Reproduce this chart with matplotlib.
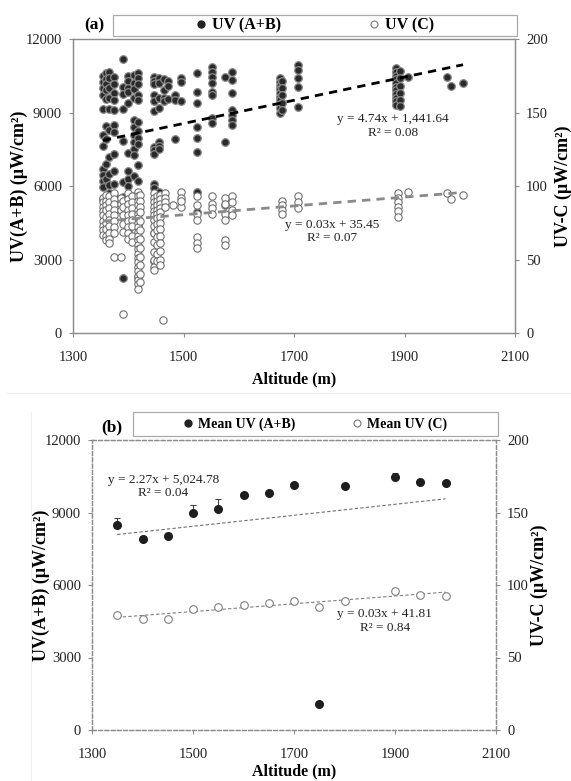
import numpy as np
import matplotlib.pyplot as plt
from matplotlib.lines import Line2D
from matplotlib.patches import Rectangle

plt.rcParams['font.family'] = ['Liberation Serif', 'DejaVu Serif']

# ---- panel (a): raw readings, grouped by altitude column ----
ab_alt = [1354, 1360, 1366, 1374, 1390, 1400, 1410, 1418, 1446, 1455, 1464, 1472,
          1484, 1495, 1524, 1552, 1575, 1588, 1675, 1679, 1707, 1885, 1891, 1906,
          1977, 1984, 2006]
ab_vals = [
    [10500, 10250, 10000, 9700, 9150, 8100, 7650, 6700, 6450, 6200, 5950, 5450],
    [10600, 10350, 10150, 9900, 9550, 8450, 7900, 6900, 6300, 5300],
    [10650, 10400, 10000, 9600, 9150, 8300, 7200, 6500, 6050, 5700],
    [10450, 10150, 9800, 9500, 9100, 8500, 8200, 7300, 6600, 6100, 5600, 5000],
    [11200, 10050, 9750, 9150, 7850, 6150, 5550, 2250],
    [10500, 10300, 10000, 9850, 9400, 7350, 6600, 6300, 6000, 4200],
    [10550, 10200, 9950, 9600, 8700, 8400, 8100, 7800, 7500, 7250, 6400, 5600, 4500],
    [10600, 10400, 10150, 9700, 9500, 8600, 8250, 7950, 7700, 6850, 6200, 5400, 4400, 2300],
    [10450, 10300, 10150, 9700, 9450, 9050, 7600, 7450, 7300, 6100, 5900, 4100, 2950],
    [10400, 10200, 9600, 9200, 7800, 7650, 7500, 5750, 5200, 3700],
    [10350, 9900, 9600, 9450],
    [10300, 10100, 9550],
    [9700, 9500, 7900],
    [10400, 10250, 9450],
    [10600, 9850, 9375, 8420, 7950, 7400, 5760, 4940],
    [10870, 10665, 10460, 10190, 9850, 9714, 8763, 8558],
    [10460, 7810, 5220],
    [10665, 10330, 9784, 9102, 8898, 8694, 8490],
    [10400, 10250, 10100, 9950, 9800, 9650, 9500, 9350, 9200, 9000],
    [10300, 10000, 9700, 9400, 9100],
    [10940, 10740, 10400, 10060, 9240],
    [10800, 10650, 10500, 10350, 10200, 10050, 9900, 9750, 9600, 9450, 9300],
    [10700, 10400, 10100, 9800, 9500, 9250],
    [10460], [10460], [10080], [10190],
]

c_alt = [1354, 1360, 1366, 1374, 1386, 1391, 1400, 1406, 1418, 1422, 1446, 1452,
         1458, 1463, 1466, 1481, 1495, 1524, 1552, 1575, 1588, 1678, 1707, 1888,
         1906, 1977, 1984, 2006]
c_vals = [
    [92, 89, 86, 83, 80, 76, 73, 70, 67],
    [94, 90, 87, 84, 79, 75, 71, 66, 63],
    [93, 89, 85, 81, 77, 73, 68, 64, 61],
    [95, 91, 88, 84, 80, 76, 72, 68, 52],
    [92, 88, 84, 52],
    [90, 86, 80, 74, 69, 13],
    [95, 91, 88, 84, 80, 76, 72, 68, 64],
    [93, 89, 85, 81, 77, 73, 66, 62],
    [96, 93, 90, 87, 84, 81, 78, 75, 72, 69, 66, 63, 60, 57, 54, 51, 48, 45, 42, 39, 36, 33, 30],
    [94, 90, 86, 82, 76, 70, 64, 58, 52, 46, 40, 35],
    [95, 92, 89, 86, 83, 80, 77, 73, 68, 62, 55, 50, 45, 43],
    [93, 90, 87, 84, 81, 78, 74, 70, 65, 60, 54, 49],
    [94, 91, 88, 85, 82, 79, 75, 71, 66, 61, 56, 50, 46],
    [9],
    [95, 92, 89, 86],
    [87],
    [96, 92, 86, 90],
    [93, 87, 81, 77, 65, 61, 58],
    [93, 88, 85, 81],
    [92, 88, 81, 77, 63, 60],
    [93, 89, 84, 80],
    [90, 87, 84, 81],
    [93, 89, 85],
    [95, 92, 89, 86, 83, 79],
    [96], [95], [91], [94],
]

# trendline coefficients as printed on the chart
fit_ab_a = (4.74, 1441.64)
fit_c_a = (0.03, 35.45)

# ---- panel (b): means per altitude ----
alt_b = [1350, 1400, 1450, 1500, 1550, 1600, 1650, 1700, 1750, 1800, 1900, 1950, 2000]
mean_ab = [8480, 7920, 8040, 8970, 9130, 9710, 9820, 10120, 1080, 10100, 10480, 10280, 10230]
err_ab = [280, 120, 100, 330, 420, 80, 60, 60, 60, 60, 150, 80, 80]
mean_c = [79.3, 76.3, 76.3, 83.2, 84.6, 86.2, 87.8, 89.0, 85.0, 89.0, 95.9, 93.1, 92.6]


def flatten(alts, vals):
    xs, ys = [], []
    for a, v in zip(alts, vals):
        xs += [a] * len(v)
        ys += v
    return np.array(xs), np.array(ys)


W, H = 571, 781
fig = plt.figure(figsize=(W / 100, H / 100), dpi=100)

spine_c = '#8c8c8c'
tick_fs = 10.5


def style(ax, dashed=False):
    for s in ax.spines.values():
        s.set_color(spine_c)
        s.set_linewidth(0.9)
        if dashed:
            s.set_linestyle((0, (3, 2)))
    ax.tick_params(direction='out', length=3, color=spine_c, labelcolor='#222222',
                   labelsize=tick_fs, pad=5)
    ax.tick_params(axis='x', pad=10)


def box_legend(x0, y0, x1, y1, handles, labels, spacing, size):
    fig.add_artist(Rectangle((x0 / W, 1 - y1 / H), (x1 - x0) / W, (y1 - y0) / H,
                             transform=fig.transFigure, fill=False, edgecolor='#aaaaaa', lw=0.9))
    fig.legend(handles, labels, loc='center', bbox_to_anchor=((x0 + x1) / 2 / W, 1 - (y0 + y1) / 2 / H),
               ncol=2, frameon=False, handlelength=0.6, handletextpad=0.4,
               columnspacing=spacing, prop={'weight': 'bold', 'size': size}, borderpad=0)


# ===================== panel (a) =====================
ax = fig.add_axes([73 / W, 1 - 333 / H, 442 / W, 294 / H])
ax2 = ax.twinx()
style(ax)
style(ax2)
ax.spines['top'].set_linestyle((0, (1, 1)))
ax.spines['top'].set_color('#b0b0b0')

xa, ya = flatten(ab_alt, ab_vals)
ax.scatter(xa, ya, s=30, c='#2a2a2a', edgecolors='#8a8a8a', linewidths=0.9, zorder=3)
xr = np.array([min(ab_alt), max(ab_alt)])
ax.plot(xr, fit_ab_a[0] * xr + fit_ab_a[1], color='black', lw=2, ls=(0, (3, 2.2)), zorder=4)

xc, yc = flatten(c_alt, c_vals)
ax2.scatter(xc, yc, s=28, c='white', edgecolors='#707070', linewidths=0.8, zorder=3)
xr = np.array([min(c_alt), max(c_alt)])
ax2.plot(xr, fit_c_a[0] * xr + fit_c_a[1], color='#8a8a8a', lw=2, ls=(0, (3, 2.2)), zorder=4)

ax.set_xlim(1300, 2100)
ax.set_ylim(0, 12000)
ax2.set_ylim(0, 200)
ax.set_xticks(np.arange(1300, 2101, 200))
ax.set_yticks(np.arange(0, 12001, 3000))
ax2.set_yticks(np.arange(0, 201, 50))
ax.set_xlabel('Altitude (m)', fontsize=11.5, fontweight='bold', labelpad=5)
ax.set_ylabel('UV(A+B) (μW/cm²)', fontsize=13, fontweight='bold', labelpad=-1.5)
ax2.set_ylabel('UV-C (μW/cm²)', fontsize=13, fontweight='bold', labelpad=4.5)

ax2.text(1879, 141, 'y = 4.74x + 1,441.64\nR² = 0.08', ha='center', va='center',
         fontsize=9.5, color='#222222', linespacing=1.2, zorder=6)
ax2.text(1769, 69, 'y = 0.03x + 35.45\nR² = 0.07', ha='center', va='center',
         fontsize=9.5, color='#222222', linespacing=1.2, zorder=6)
fig.text(84 / W, 1 - 25 / H, '(a)', fontsize=12.5, fontweight='bold', ha='left', va='center')

h1 = Line2D([], [], ls='none', marker='o', ms=5, mfc='#222222', mec='#222222')
h2 = Line2D([], [], ls='none', marker='o', ms=5, mfc='white', mec='#777777', mew=0.8)
box_legend(113, 15, 517, 36, [h1, h2], ['UV (A+B)', 'UV (C)'], 5.5, 11.5)

fig.add_artist(Line2D([7 / W, 1], [1 - 393 / H, 1 - 393 / H], transform=fig.transFigure,
                      color='#ececec', lw=0.8))

# ===================== panel (b) =====================
bx = fig.add_axes([92 / W, 1 - 730 / H, 404 / W, 290 / H])
bx2 = bx.twinx()
style(bx, dashed=True)
style(bx2, dashed=True)

alt_b = np.array(alt_b)
bx.errorbar(alt_b, mean_ab, yerr=[np.zeros(len(err_ab)), err_ab], fmt='o', ms=5.5,
            mfc='#1e1e1e', mec='#1e1e1e', ecolor='#444444', elinewidth=0.8,
            capsize=2, capthick=0.8, zorder=3)
k = np.polyfit(alt_b, mean_ab, 1)
xr = np.array([alt_b.min(), alt_b.max()])
bx.plot(xr, np.polyval(k, xr), color='#707070', lw=0.8, ls=(0, (3, 2)), zorder=2)

bx2.plot(alt_b, mean_c, 'o', ms=5.5, mfc='white', mec='#808080', mew=0.8, zorder=3)
k = np.polyfit(alt_b, mean_c, 1)
bx2.plot(xr, np.polyval(k, xr), color='#808080', lw=0.8, ls=(0, (3, 2)), zorder=2)

bx.set_xlim(1300, 2100)
bx.set_ylim(0, 12000)
bx2.set_ylim(0, 200)
bx.set_xticks(np.arange(1300, 2101, 200))
bx.set_yticks(np.arange(0, 12001, 3000))
bx2.set_yticks(np.arange(0, 201, 50))
bx.set_xlabel('Altitude (m)', fontsize=11.5, fontweight='bold', labelpad=2)
bx.set_ylabel('UV(A+B) (μW/cm²)', fontsize=13, fontweight='bold', labelpad=-4)
bx2.set_ylabel('UV-C (μW/cm²)', fontsize=13, fontweight='bold', labelpad=1)

bx.text(1441, 10076, 'y = 2.27x + 5,024.78\nR² = 0.04', ha='center', va='center',
        fontsize=9.5, color='#222222', linespacing=1.2)
bx2.text(1880, 75, 'y = 0.03x + 41.81\nR² = 0.84', ha='center', va='center',
         fontsize=9.5, color='#222222', linespacing=1.2)
fig.text(101 / W, 1 - 427 / H, '(b)', fontsize=12.5, fontweight='bold', ha='left', va='center')

h1 = Line2D([], [], ls='none', marker='o', ms=5, mfc='#222222', mec='#222222')
h2 = Line2D([], [], ls='none', marker='o', ms=5, mfc='white', mec='#777777', mew=0.8)
box_legend(133, 412, 498, 436, [h1, h2], ['Mean UV (A+B)', 'Mean UV (C)'], 4.2, 10)

fig.add_artist(Line2D([31 / W, 31 / W], [0, 1 - 412 / H], transform=fig.transFigure,
                      color='#f0f0f0', lw=0.8))

fig.savefig('out.png', dpi=100)
